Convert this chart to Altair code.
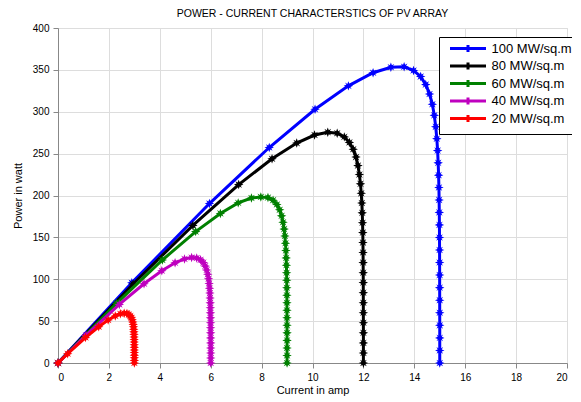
import altair as alt
import pandas as pd

series_names = ["100 MW/sq.m", "80 MW/sq.m", "60 MW/sq.m", "40 MW/sq.m", "20 MW/sq.m"]
series_colors = ["#0000FF", "#000000", "#008000", "#BF00BF", "#FF0000"]

current_100 = [0, 2.90, 5.95, 8.30, 10.10, 11.41, 12.38, 13.08, 13.60, 13.97,
               14.25, 14.45, 14.60, 14.71, 14.785, 14.842, 14.885, 14.916, 14.938, 14.955,
               14.967, 14.976, 14.982, 14.987, 14.99, 14.993, 14.995, 14.996, 14.997, 14.998,
               14.999, 15, 15, 15, 15]
power_100 = [0, 95.7, 190.4, 257.3, 303.0, 330.9, 346.6, 353.2, 353.6, 349.3,
             342.0, 332.4, 321.2, 308.9, 295.7, 282.0, 267.9, 253.6, 239.0, 224.3,
             209.5, 194.7, 179.8, 164.9, 149.9, 134.9, 120.0, 105.0, 90.0, 75.0,
             60.0, 45, 30, 15, 0]

current_80 = [0, 2.95, 5.30, 7.10, 8.41, 9.38, 10.08, 10.60, 10.97, 11.25,
              11.45, 11.60, 11.71, 11.785, 11.842, 11.885, 11.916, 11.938, 11.955, 11.967,
              11.976, 11.982, 11.987, 11.99, 11.993, 11.995, 11.996, 11.997, 11.998, 11.999,
              12, 12, 12, 12]
power_80 = [0, 94.4, 164.3, 213.0, 243.9, 262.6, 272.2, 275.6, 274.3, 270.0,
            263.4, 255.2, 245.9, 235.7, 225.0, 213.9, 202.6, 191.0, 179.3, 167.5,
            155.7, 143.8, 131.9, 119.9, 107.9, 96.0, 84.0, 72.0, 60.0, 48.0,
            36, 24, 12, 0]

current_60 = [0, 2.30, 4.10, 5.41, 6.38, 7.08, 7.60, 7.97, 8.25, 8.45,
              8.60, 8.71, 8.785, 8.842, 8.885, 8.916, 8.938, 8.955, 8.967, 8.976,
              8.982, 8.987, 8.99, 8.993, 8.995, 8.996, 8.997, 8.998, 9, 9,
              9, 9, 9]
power_60 = [0, 71.3, 123.0, 156.9, 178.6, 191.2, 197.0, 198.3, 197.5, 194.4,
            189.2, 182.9, 175.7, 168.0, 159.9, 151.6, 143.0, 134.3, 125.5, 116.7,
            107.8, 98.9, 89.9, 80.9, 72.0, 63.0, 54.0, 45.0, 36, 27,
            18, 9, 0]

current_40 = [0, 1.10, 2.41, 3.38, 4.08, 4.60, 4.97, 5.25, 5.45, 5.60,
              5.71, 5.785, 5.842, 5.885, 5.916, 5.938, 5.955, 5.967, 5.976, 5.982,
              5.987, 5.99, 5.993, 5.995, 5.996, 5.997, 5.998, 6, 6, 6,
              6, 6]
power_40 = [0, 33.0, 69.9, 94.6, 110.2, 119.6, 124.3, 126.0, 125.4, 123.2,
            119.9, 115.7, 111.0, 105.9, 100.6, 95.0, 89.3, 83.5, 77.7, 71.8,
            65.9, 59.9, 53.9, 48.0, 42.0, 36.0, 30.0, 24, 18, 12,
            6, 0]

current_20 = [0, 0.38, 1.08, 1.60, 1.97, 2.25, 2.45, 2.60, 2.71, 2.785,
              2.842, 2.885, 2.916, 2.938, 2.955, 2.967, 2.976, 2.982, 2.987, 2.99,
              2.993, 2.995, 2.996, 2.997, 2.998, 3, 3, 3, 3, 3]
power_20 = [0, 11.0, 30.4, 43.3, 51.3, 56.2, 58.7, 59.5, 59.2, 57.9,
            56.2, 54.0, 51.6, 48.9, 46.1, 43.2, 40.2, 37.2, 34.2, 31.1,
            28.0, 25.0, 21.8, 18.7, 15.6, 12.5, 9.4, 6.2, 3.1, 0]

x_ticks = [0, 2, 4, 6, 8, 10, 12, 14, 16, 18, 20]
y_ticks = [0, 50, 100, 150, 200, 250, 300, 350, 400]

series_data = [
    (series_names[0], current_100, power_100),
    (series_names[1], current_80, power_80),
    (series_names[2], current_60, power_60),
    (series_names[3], current_40, power_40),
    (series_names[4], current_20, power_20),
]

rows = []
for name, cur, pw in series_data:
    for i, (c, p) in enumerate(zip(cur, pw)):
        rows.append({"series": name, "current": c, "power": p, "idx": i})
df = pd.DataFrame(rows)

FONT = "Liberation Sans"
STAR = ("M0,-1L0.22,-0.42L0.7,-0.7L0.42,-0.22L1,0L0.42,0.22L0.7,0.7L0.22,0.42"
        "L0,1L-0.22,0.42L-0.7,0.7L-0.42,0.22L-1,0L-0.42,-0.22L-0.7,-0.7L-0.22,-0.42Z")
LEG_SYMBOL = "M-4.5,0L4.5,0M0,-0.9L0,0.9"

color_scale = alt.Scale(domain=series_names, range=series_colors)
legend = alt.Legend(
    title=None, orient="none", legendX=381, legendY=9, direction="vertical",
    fillColor="white", strokeColor="black", cornerRadius=0,
    padding=5, symbolType=LEG_SYMBOL, symbolSize=64, symbolStrokeWidth=3,
    symbolOffset=17.5, labelOffset=17, labelFontSize=13, labelFont=FONT,
    labelColor="black", rowPadding=-3.5,
)

x_enc = alt.X("current:Q", scale=alt.Scale(domain=[0, 20], nice=False),
              axis=alt.Axis(title="Current in amp", values=x_ticks, labelPadding=4,
                            titlePadding=2, titleFontWeight="normal"))
y_enc = alt.Y("power:Q", scale=alt.Scale(domain=[0, 400], nice=False),
              axis=alt.Axis(title="Power in watt", values=y_ticks, labelPadding=4,
                            titlePadding=9, titleFontWeight="normal"))
c_enc = alt.Color("series:N", scale=color_scale, legend=legend, sort=series_names)

layers = []
for name in series_names:
    base = alt.Chart(df).transform_filter(alt.datum.series == name)
    line = base.mark_line(strokeWidth=3).encode(
        x=x_enc, y=y_enc, color=c_enc, order="idx:Q")
    pts = base.mark_point(shape=STAR, filled=True, size=90, opacity=1, strokeWidth=0).encode(
        x=x_enc, y=y_enc, color=c_enc)
    layers += [line, pts]

chart = alt.layer(*layers).properties(
    width=509, height=335,
    title=alt.TitleParams(text="POWER - CURRENT CHARACTERSTICS OF PV ARRAY",
                          fontSize=10.5, fontWeight="normal", font=FONT, color="black",
                          anchor="middle", frame="group", offset=4),
    autosize=alt.AutoSizeParams(type="none"),
    padding={"left": 50, "top": 20, "right": 5, "bottom": 38},
).configure_view(
    stroke="black", strokeWidth=1
).configure_axis(
    domainColor="black", domainWidth=1, ticks=False,
    labelFont=FONT, labelFontSize=12, labelColor="black",
    titleFont=FONT, titleFontSize=12, titleFontWeight="normal", titleColor="black",
    grid=True, gridColor="#808080", gridDash=[1, 2], gridWidth=1, gridOpacity=1,
).configure_legend(
    strokeWidth=1
).configure(background="white")

chart.save("out.html", embed_options={"renderer": "svg", "actions": False})
